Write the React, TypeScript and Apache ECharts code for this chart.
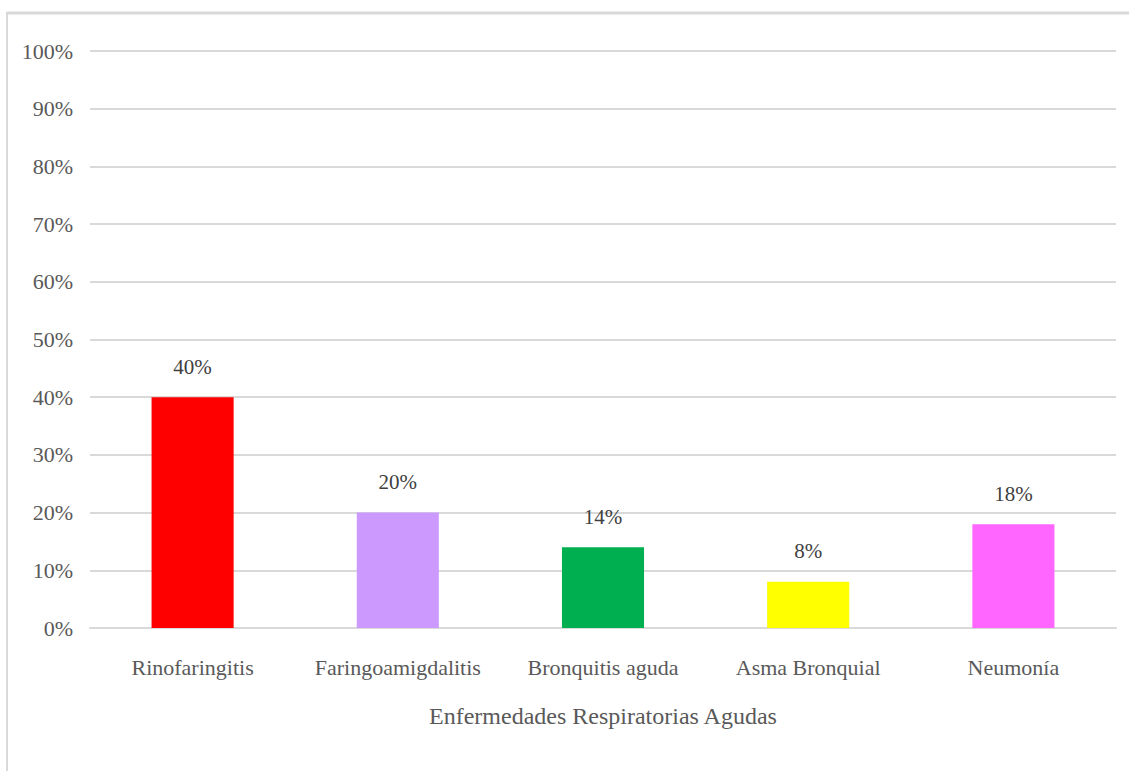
import React, { useEffect, useRef } from "react";
import * as echarts from "echarts";

const categories = ["Rinofaringitis", "Faringoamigdalitis", "Bronquitis aguda", "Asma Bronquial", "Neumonía"];
const values = [40, 20, 14, 8, 18];
const barColors = ["#FF0000", "#CC99FF", "#00B050", "#FFFF00", "#FF66FF"];
const axisTitle = "Enfermedades Respiratorias Agudas";

const FONT = "'Liberation Serif', 'Times New Roman', serif";

export default function App() {
  const ref = useRef<HTMLDivElement>(null);
  useEffect(() => {
    if (!ref.current) return;
    const chart = echarts.init(ref.current, undefined, { renderer: "svg" });
    chart.setOption({
      animation: false,
      backgroundColor: "#ffffff",
      graphic: [
        { type: "line", shape: { x1: 7, y1: 13, x2: 1129, y2: 13 }, style: { stroke: "#d9d9d9", lineWidth: 3 } },
        { type: "line", shape: { x1: 7, y1: 12, x2: 7, y2: 771 }, style: { stroke: "#d9d9d9", lineWidth: 2 } },
      ],
      grid: { left: 90, right: 15, top: 51, bottom: 143, containLabel: false },
      xAxis: {
        type: "category",
        data: categories,
        name: axisTitle,
        nameLocation: "middle",
        nameGap: 76,
        nameTextStyle: { fontFamily: FONT, fontSize: 24, color: "#595959" },
        axisLine: { show: true, lineStyle: { color: "#d9d9d9", width: 2 } },
        axisTick: { show: false },
        axisLabel: { interval: 0, fontFamily: FONT, fontSize: 22, color: "#595959", margin: 28 },
      },
      yAxis: {
        type: "value",
        min: 0,
        max: 100,
        interval: 10,
        axisLine: { show: false },
        axisTick: { show: false },
        splitLine: { lineStyle: { color: "#d9d9d9", width: 2 } },
        axisLabel: { fontFamily: FONT, fontSize: 22, color: "#595959", margin: 17, formatter: "{value}%" },
      },
      series: [
        {
          type: "bar",
          barWidth: "40%",
          data: values.map((v, i) => ({ value: v, itemStyle: { color: barColors[i] } })),
          label: {
            show: true,
            position: "top",
            distance: 20,
            formatter: "{c}%",
            fontFamily: FONT,
            fontSize: 21,
            color: "#404040",
          },
        },
      ],
    });
    return () => chart.dispose();
  }, []);
  return <div ref={ref} style={{ position: "fixed", left: 0, top: 0, width: 1131, height: 771 }} />;
}
